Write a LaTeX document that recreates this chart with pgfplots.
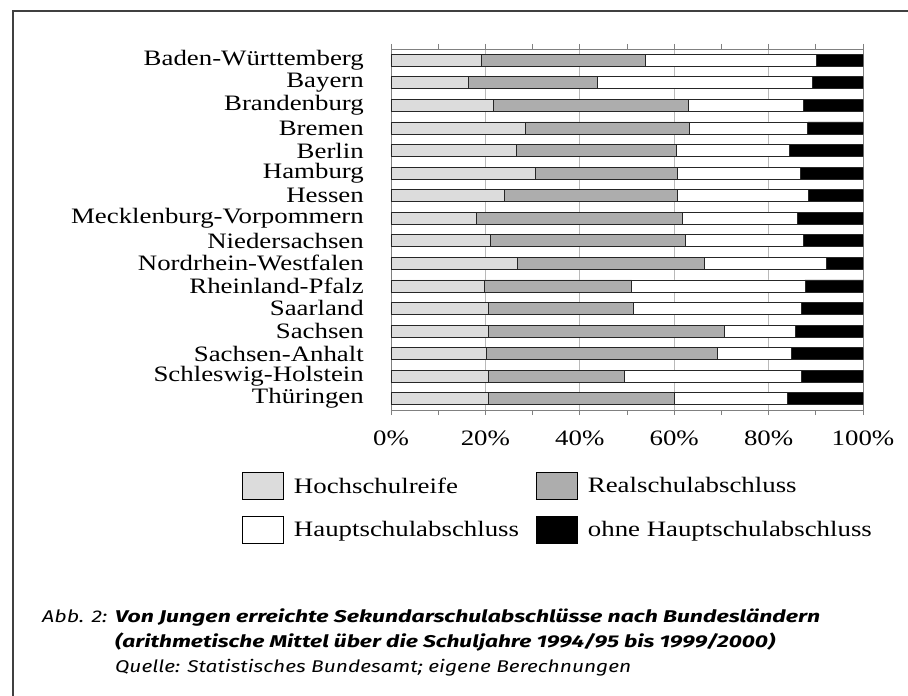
\documentclass[border=0pt]{standalone}
\usepackage{fontspec}
\setmainfont[FakeStretch=1.22]{Liberation Serif}
\newfontfamily\capfont{Fira Sans}
\usepackage{graphicx}
\usepackage{pgfplots}
\usepackage{pgfplotstable}
\pgfplotsset{compat=1.18}
\definecolor{hoch}{HTML}{DCDCDC}
\definecolor{real}{HTML}{ADADAD}
\definecolor{frame}{HTML}{404040}
\pgfplotstableread{
idx hoch real haupt ohne
0 19.1 34.8 36.2 9.9
1 16.5 27.2 45.5 10.8
2 21.7 41.4 24.2 12.7
3 28.5 34.7 25.1 11.7
4 26.6 33.9 24.0 15.5
5 30.6 30.1 26.1 13.2
6 24.1 36.5 27.8 11.6
7 18.1 43.7 24.3 13.9
8 21.0 41.3 25.1 12.6
9 26.7 39.6 26.0 7.7
10 19.7 31.3 36.7 12.3
11 20.7 30.6 35.7 13.0
12 20.6 50.0 15.0 14.4
13 20.3 48.9 15.7 15.1
14 20.7 28.8 37.5 13.0
15 20.7 39.4 23.8 16.1
}\data
\begin{document}
\begin{tikzpicture}[x=1pt,y=1pt]
\useasboundingbox (0,0) rectangle (908,696);
\draw[frame, line width=1.5pt] (908,685) -- (13,685) -- (13,-2);
\begin{axis}[
  at={(391pt,286pt)}, anchor=south west,
  scale only axis, width=472pt, height=361pt,
  xbar stacked, bar width=12pt,
  xmin=0, xmax=100, ymin=-0.5, ymax=15.5, y dir=reverse,
  ytick={0,...,15},
  yticklabels={Baden-Württemberg,Bayern,Brandenburg,Bremen,Berlin,Hamburg,Hessen,Mecklenburg-Vorpommern,Niedersachsen,Nordrhein-Westfalen,Rheinland-Pfalz,Saarland,Sachsen,Sachsen-Anhalt,Schleswig-Holstein,Thüringen},
  xtick={0,20,...,100}, minor xtick={10,30,50,70,90},
  xticklabel={\pgfmathprintnumber{\tick}\%},
  /pgf/number format/assume math mode=true,
  xmajorgrids, grid style={gray!55, line width=0.8pt},
  axis line style={gray, line width=0.8pt},
  tick align=outside, major tick length=5pt, minor tick length=5pt,
  x tick style={gray, line width=0.8pt},
  y tick style={draw=none},
  tick label style={font=\fontsize{22}{22}\selectfont},
  yticklabel style={inner sep=0pt, xshift=-22pt},
  xticklabel style={yshift=-12pt},
  legend columns=2,
  legend cell align=left,
  legend style={at={(-0.3157,-0.1717)}, anchor=north west, draw=none, fill=none,
    inner sep=0pt, row sep=16pt,
    font=\fontsize{22}{22}\selectfont,
    nodes={inner sep=0pt, anchor=west},
    /tikz/every odd column/.append style={column sep=10pt},
    /tikz/every even column/.append style={column sep=17pt}},
  legend image code/.code={\draw[#1, draw=black, line width=0.8pt] (0pt,-13.5pt) rectangle (41pt,13.5pt);},
  every axis plot/.append style={draw=black!85, line width=0.8pt},
]
\addplot[fill=hoch] table[x=hoch, y=idx] {\data};
\addplot[fill=real] table[x=real, y=idx] {\data};
\addplot[fill=white] table[x=haupt, y=idx] {\data};
\addplot[fill=black] table[x=ohne, y=idx] {\data};
\legend{Hochschulreife, Realschulabschluss, Hauptschulabschluss, ohne Hauptschulabschluss}
\end{axis}
\node[anchor=base west, inner sep=0pt, font=\capfont\itshape\fontsize{17}{17}\selectfont] at (42,73) {\resizebox{65pt}{\height}{Abb. 2:}};
\node[anchor=base west, inner sep=0pt, font=\capfont\bfseries\itshape\fontsize{17}{17}\selectfont] at (115,73) {\resizebox{705pt}{\height}{Von Jungen erreichte Sekundarschulabschlüsse nach Bundesländern}};
\node[anchor=base west, inner sep=0pt, font=\capfont\bfseries\itshape\fontsize{17}{17}\selectfont] at (115,48) {\resizebox{660pt}{\height}{(arithmetische Mittel über die Schuljahre 1994/95 bis 1999/2000)}};
\node[anchor=base west, inner sep=0pt, font=\capfont\itshape\fontsize{17}{17}\selectfont] at (115,23) {\resizebox{516pt}{\height}{Quelle: Statistisches Bundesamt; eigene Berechnungen}};
\end{tikzpicture}
\end{document}
